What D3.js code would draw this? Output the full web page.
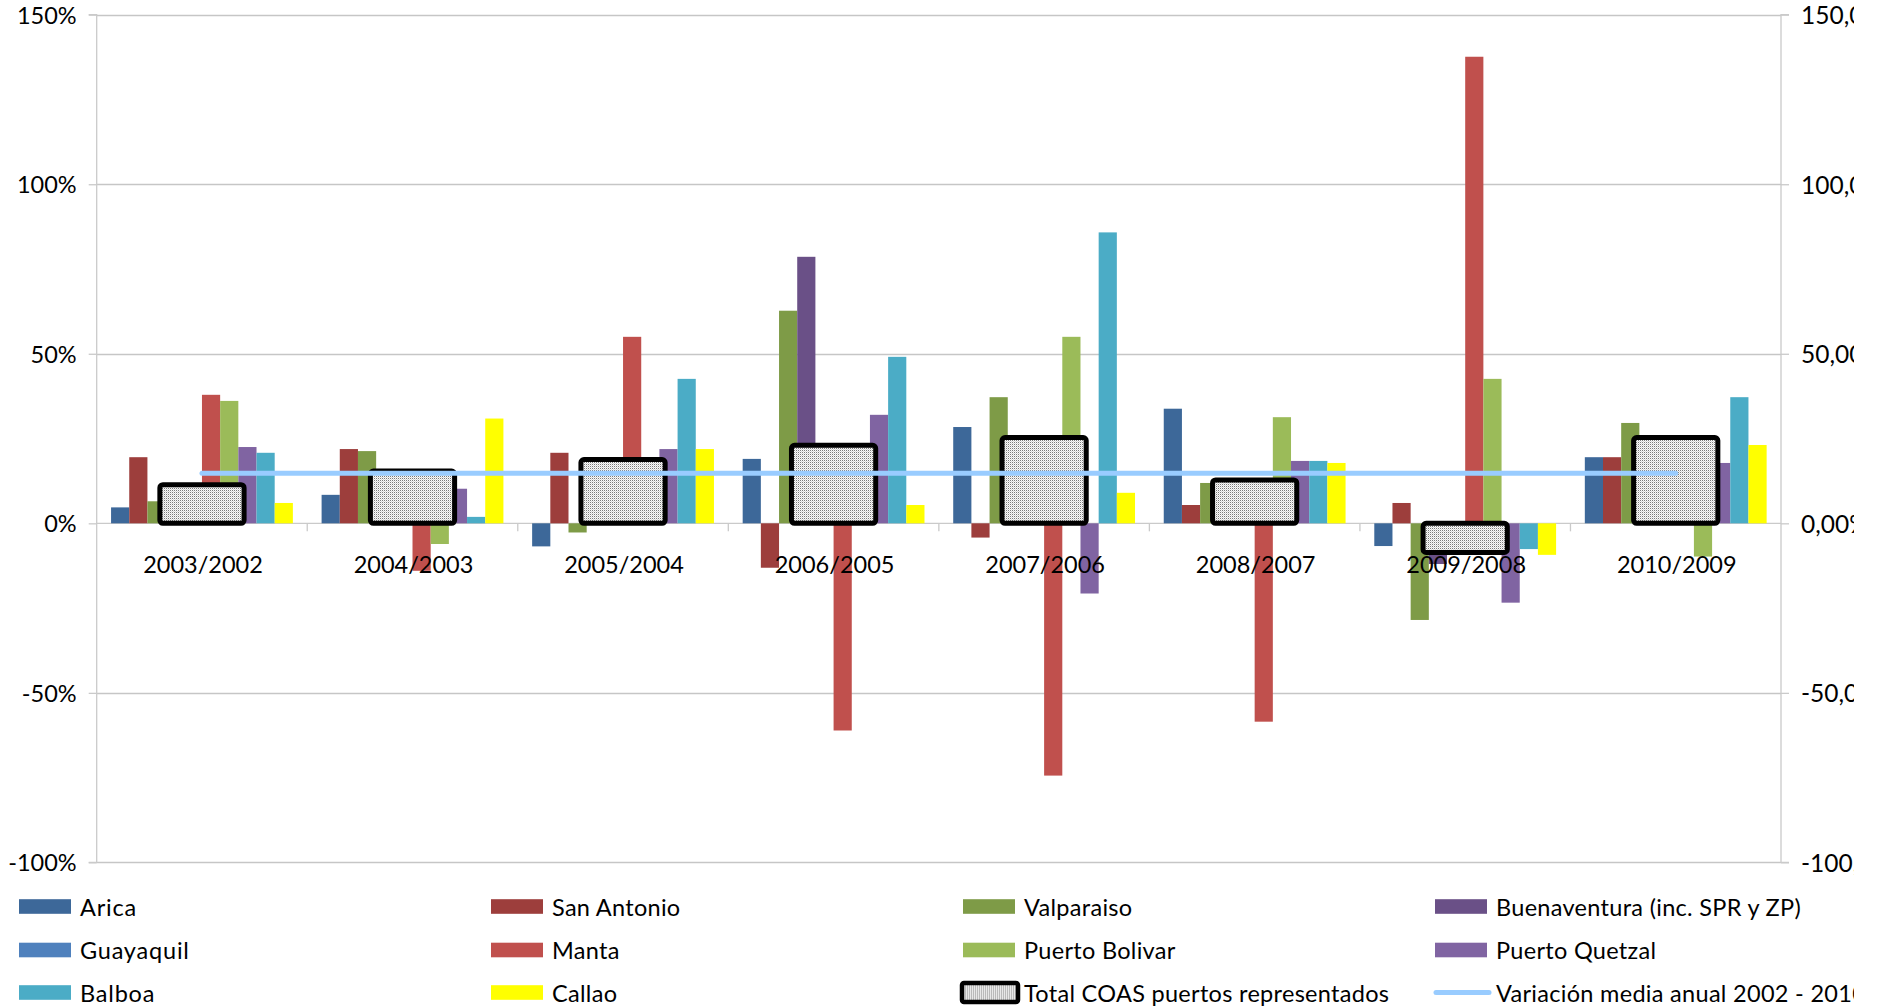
<!DOCTYPE html>
<html>
<head>
<meta charset="utf-8">
<script src="https://cdn.jsdelivr.net/npm/d3@7/dist/d3.min.js"></script>
<style>
  html, body { margin: 0; padding: 0; background: #fff; }
  svg { display: block; font-family: Lato, "Open Sans", sans-serif; }
</style>
</head>
<body>
<svg id="chart" width="1877" height="1008"></svg>
<script>
// Year-on-year container throughput variation per port (%)
const categories = ["2003/2002", "2004/2003", "2005/2004", "2006/2005",
                    "2007/2006", "2008/2007", "2009/2008", "2010/2009"];

const ports = ["Arica", "San Antonio", "Valparaiso", "Buenaventura (inc. SPR y ZP)",
               "Guayaquil", "Manta", "Puerto Bolivar", "Puerto Quetzal", "Balboa", "Callao"];

const arica        = [4.7, 8.4, -6.8, 19.0, 28.4, 33.8, -6.7, 19.5];
const sanAntonio   = [19.5, 21.9, 20.8, -13.1, -4.2, 5.4, 6.0, 19.5];
const valparaiso   = [6.5, 21.3, -2.7, 62.7, 37.2, 11.9, -28.5, 29.6];
const buenaventura = [9.0, 12.0, 14.0, 78.6, 17.0, 8.0, -12.0, 15.0];
const guayaquil    = [7.0, 10.0, 15.0, 18.0, 12.0, 9.0, -4.0, 14.0];
const manta        = [37.9, -14.0, 55.0, -61.1, -74.4, -58.5, 137.6, 12.0];
const puertoBolivar = [36.1, -6.1, 10.0, 15.0, 55.0, 31.3, 42.6, -9.8];
const puertoQuetzal = [22.5, 10.2, 21.9, 32.0, -20.7, 18.4, -23.4, 17.8];
const balboa       = [20.8, 1.9, 42.6, 49.1, 85.8, 18.4, -7.6, 37.2];
const callao       = [6.0, 30.9, 21.9, 5.4, 9.0, 17.8, -9.3, 23.1];

// Total of the ports shown (secondary axis, same range)
const totalCOAS = [11.4, 15.4, 18.8, 23.0, 25.3, 12.8, -8.6, 25.3];
// Mean annual variation 2002 - 2010
const mediaAnual = [14.75, 14.75, 14.75, 14.75, 14.75, 14.75, 14.75, 14.75];

const portSeries = [arica, sanAntonio, valparaiso, buenaventura, guayaquil,
                    manta, puertoBolivar, puertoQuetzal, balboa, callao];
const portColors = ["#3d6899", "#9d3e3c", "#7e9b47", "#6a5087", "#4f81bd",
                    "#c0504d", "#9bbb59", "#8064a2", "#4bacc6", "#ffff00"];

const totalLabel = "Total COAS puertos representados";
const lineLabel = "Variación media anual 2002 - 2010";

const leftTicks = [-100, -50, 0, 50, 100, 150];
const leftTickLabels = ["-100%", "-50%", "0%", "50%", "100%", "150%"];
const rightTickLabels = ["-100,00%", "-50,00%", "0,00%", "50,00%", "100,00%", "150,00%"];

const svg = d3.select("#chart");

const plotLeft = 96.7, plotRight = 1781;
const canvasEdge = 1854; // drawing area ends here; anything further is cut
const y = d3.scaleLinear().domain([-100, 150]).range([862.4, 14.7]);
const x0 = d3.scaleBand().domain(categories).range([plotLeft, plotRight]);
const xBar = d3.scaleBand().domain(ports).range([0, x0.bandwidth()])
  .paddingInner(0).paddingOuter(0.79);

const gridColor = "#c6c6c6";
const axisColor = "#cacaca";

const defs = svg.append("defs");
defs.append("clipPath").attr("id", "edge")
  .append("rect").attr("x", 0).attr("y", 0).attr("width", canvasEdge).attr("height", 1008);

// pattern fill for the total bars
const pat = defs.append("pattern").attr("id", "grid")
  .attr("patternUnits", "userSpaceOnUse").attr("width", 2).attr("height", 2);
pat.append("rect").attr("width", 2).attr("height", 2).attr("fill", "#fafafa");
pat.append("rect").attr("width", 1).attr("height", 1).attr("fill", "#7a7a7a");
pat.append("rect").attr("x", 1).attr("y", 1).attr("width", 1).attr("height", 1).attr("fill", "#d6d6d6");

const root = svg.append("g").attr("clip-path", "url(#edge)");

// horizontal gridlines
root.append("g").selectAll("line").data(leftTicks.filter(d => d !== 0)).join("line")
  .attr("x1", plotLeft).attr("x2", plotRight)
  .attr("y1", d => Math.round(y(d)) + 0.5).attr("y2", d => Math.round(y(d)) + 0.5)
  .attr("stroke", gridColor).attr("stroke-width", 1.3);

// left axis
const leftAxis = root.append("g").attr("transform", `translate(${plotLeft},0)`)
  .call(d3.axisLeft(y).tickValues(leftTicks).tickSize(8).tickPadding(12)
    .tickFormat((d, i) => leftTickLabels[i]));
leftAxis.select(".domain").attr("stroke", axisColor).attr("stroke-width", 1.3)
  .attr("d", `M-8,${y(150)}H0V${y(-100)}H-8`);
leftAxis.selectAll(".tick line").attr("stroke", axisColor).attr("stroke-width", 1.3);
leftAxis.selectAll(".tick text").attr("font-size", 23.5).attr("fill", "#000")
  .attr("font-family", "Lato, sans-serif").attr("dy", "0.36em");

// right axis
const rightAxis = root.append("g").attr("transform", `translate(${plotRight},0)`)
  .call(d3.axisRight(y).tickValues(leftTicks).tickSize(8).tickPadding(12)
    .tickFormat((d, i) => rightTickLabels[i]));
rightAxis.select(".domain").attr("stroke", axisColor).attr("stroke-width", 1.3)
  .attr("d", `M8,${y(150)}H0V${y(-100)}H8`);
rightAxis.selectAll(".tick line").attr("stroke", axisColor).attr("stroke-width", 1.3);
rightAxis.selectAll(".tick text").attr("font-size", 24.5).attr("fill", "#000")
  .attr("font-family", "Lato, sans-serif").attr("dy", "0.36em");

// zero line with category ticks
root.append("line").attr("x1", plotLeft).attr("x2", plotRight)
  .attr("y1", y(0)).attr("y2", y(0)).attr("stroke", axisColor).attr("stroke-width", 1.3);
root.append("g").selectAll("line").data(categories.slice(1)).join("line")
  .attr("x1", d => x0(d)).attr("x2", d => x0(d))
  .attr("y1", y(0)).attr("y2", y(0) + 8)
  .attr("stroke", axisColor).attr("stroke-width", 1.3);

// port bars
const barData = [];
portSeries.forEach((s, si) => s.forEach((v, ci) =>
  barData.push({ port: ports[si], cat: categories[ci], v, color: portColors[si] })));
root.append("g").selectAll("rect").data(barData).join("rect")
  .attr("x", d => x0(d.cat) + xBar(d.port))
  .attr("width", xBar.bandwidth())
  .attr("y", d => y(Math.max(0, d.v)))
  .attr("height", d => Math.abs(y(d.v) - y(0)))
  .attr("fill", d => d.color);

// total bars (patterned, thick black border)
const totalW = x0.bandwidth() * 0.4;
root.append("g").selectAll("rect").data(totalCOAS).join("rect")
  .attr("x", (d, i) => x0(categories[i]) + (x0.bandwidth() - totalW) / 2)
  .attr("width", totalW)
  .attr("y", d => y(Math.max(0, d)))
  .attr("height", d => Math.abs(y(d) - y(0)))
  .attr("rx", 3).attr("ry", 3)
  .attr("fill", "url(#grid)").attr("stroke", "#000").attr("stroke-width", 5);

// mean variation line
const line = d3.line().x((d, i) => x0(categories[i]) + x0.bandwidth() / 2).y(d => y(d));
root.append("path").datum(mediaAnual).attr("d", line)
  .attr("fill", "none").attr("stroke", "#99ccff").attr("stroke-width", 5)
  .attr("stroke-linecap", "round");

// category labels
root.append("g").selectAll("text").data(categories).join("text")
  .attr("x", d => x0(d) + x0.bandwidth() / 2 + 1)
  .attr("y", y(0) + 49.4)
  .attr("text-anchor", "middle").attr("font-size", 23.5).attr("fill", "#000")
  .text(d => d);

// legend
const legendItems = ports.map((p, i) => ({ label: p, type: "bar", color: portColors[i] }));
legendItems.push({ label: totalLabel, type: "total" });
legendItems.push({ label: lineLabel, type: "line" });
const colX = [19, 491, 963, 1435];
const rowY = [906.5, 950, 992.5];
const lg = root.append("g").selectAll("g").data(legendItems).join("g")
  .attr("transform", (d, i) => `translate(${colX[i % 4]},${rowY[Math.floor(i / 4)]})`);
lg.filter(d => d.type === "bar").append("rect")
  .attr("x", 0).attr("y", -7.3).attr("width", 52).attr("height", 14.6)
  .attr("fill", d => d.color);
lg.filter(d => d.type === "total").append("rect")
  .attr("x", -1).attr("y", -9.5).attr("width", 56).attr("height", 19)
  .attr("rx", 2).attr("fill", "url(#grid)").attr("stroke", "#000").attr("stroke-width", 4.5);
lg.filter(d => d.type === "line").append("line")
  .attr("x1", 1).attr("x2", 54).attr("y1", 0).attr("y2", 0)
  .attr("stroke", "#99ccff").attr("stroke-width", 5).attr("stroke-linecap", "round");
lg.append("text")
  .attr("x", 61)
  .attr("y", 9)
  .attr("font-size", 23.5).attr("fill", "#000")
  .attr("letter-spacing", (d, i) => (i % 4 === 0 ? 0.8 : 0.3))
  .text(d => d.label);
</script>
</body>
</html>
